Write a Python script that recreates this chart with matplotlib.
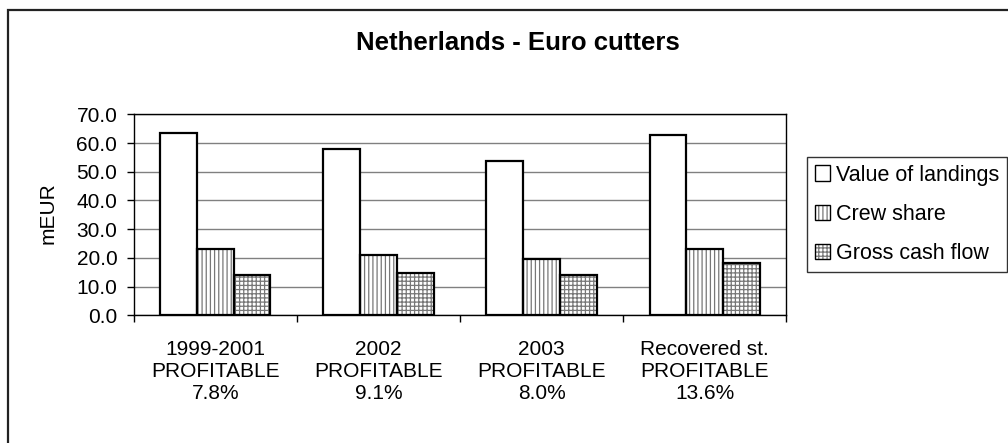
import matplotlib
matplotlib.use("Agg")
import matplotlib.pyplot as plt
from matplotlib.patches import Patch, Rectangle
from matplotlib.legend_handler import HandlerTuple
import numpy as np

plt.rcParams["font.family"] = ["Liberation Sans", "DejaVu Sans"]
plt.rcParams["hatch.linewidth"] = 0.9

# Netherlands euro cutters, mEUR
categories = ["1999-2001\nPROFITABLE\n7.8%", "2002\nPROFITABLE\n9.1%",
              "2003\nPROFITABLE\n8.0%", "Recovered st.\nPROFITABLE\n13.6%"]
series = ["Value of landings", "Crew share", "Gross cash flow"]
value_of_landings = [63.5, 57.9, 53.7, 62.9]
crew_share = [23.2, 21.0, 19.5, 23.1]
gross_cash_flow = [14.2, 14.7, 14.1, 18.2]

hatches = [None, "||||", "++++"]

fig = plt.figure(figsize=(10.08, 4.43), dpi=100)
ax = fig.add_axes([0.1329, 0.2883, 0.6469, 0.4537])

x = np.arange(len(categories))
w = 0.225
handles = []
for i, (vals, h) in enumerate(zip([value_of_landings, crew_share, gross_cash_flow], hatches)):
    pos = x + (i - 1) * w
    # hatch layer in grey, then black outline on top
    ax.bar(pos, vals, w, color="white", edgecolor="#777777" if h else "white",
           hatch=h, linewidth=0, zorder=3)
    ax.bar(pos, vals, w, fill=False, edgecolor="black", linewidth=1.6, zorder=4)
    inner = Patch(facecolor="white", edgecolor="#777777" if h else "white", hatch=h, linewidth=0)
    outer = Patch(fill=False, edgecolor="black", linewidth=1.0)
    handles.append((inner, outer))

ax.set_xlim(-0.5, 3.5)
ax.set_ylim(0, 70)
ax.set_yticks(np.arange(0, 71, 10))
ax.set_yticklabels([f"{v:.1f}" for v in np.arange(0, 71, 10)], fontsize=15)
ax.set_xticks(x)
ax.set_xticklabels(categories, fontsize=15, linespacing=1.18)
ax.set_xticks(np.arange(-0.5, 3.6, 1), minor=True)
ax.tick_params(axis="x", which="major", length=0, pad=18)
ax.tick_params(axis="x", which="minor", length=5, width=1, direction="out")
ax.tick_params(axis="y", length=5, width=1, pad=7)
ax.grid(axis="y", color="#808080", linewidth=1, zorder=0)
ax.set_axisbelow(True)
for s in ax.spines.values():
    s.set_linewidth(1)
    s.set_color("black")

fig.text(0.514, 0.903, "Netherlands - Euro cutters", fontsize=18.5, fontweight="bold",
         ha="center", va="center")
fig.text(0.048, 0.52, "mEUR", fontsize=15, rotation=90, ha="center", va="center")

leg = fig.legend(handles, series, loc="upper left", bbox_to_anchor=(0.8006, 0.6456),
                 borderaxespad=0, fontsize=15.5, frameon=True, fancybox=False,
                 handlelength=0.7, handleheight=0.7, handletextpad=0.3,
                 labelspacing=0.85, borderpad=0.35,
                 handler_map={tuple: HandlerTuple(ndivide=1)})
leg.get_frame().set_edgecolor("black")
leg.get_frame().set_linewidth(1)

# outer chart border
fig.patches.append(Rectangle((0.0079, -0.1), 1.2, 1.1 - 0.0226, transform=fig.transFigure,
                             fill=False, edgecolor="#222222", linewidth=1.6))

fig.savefig("out.png", dpi=100)
